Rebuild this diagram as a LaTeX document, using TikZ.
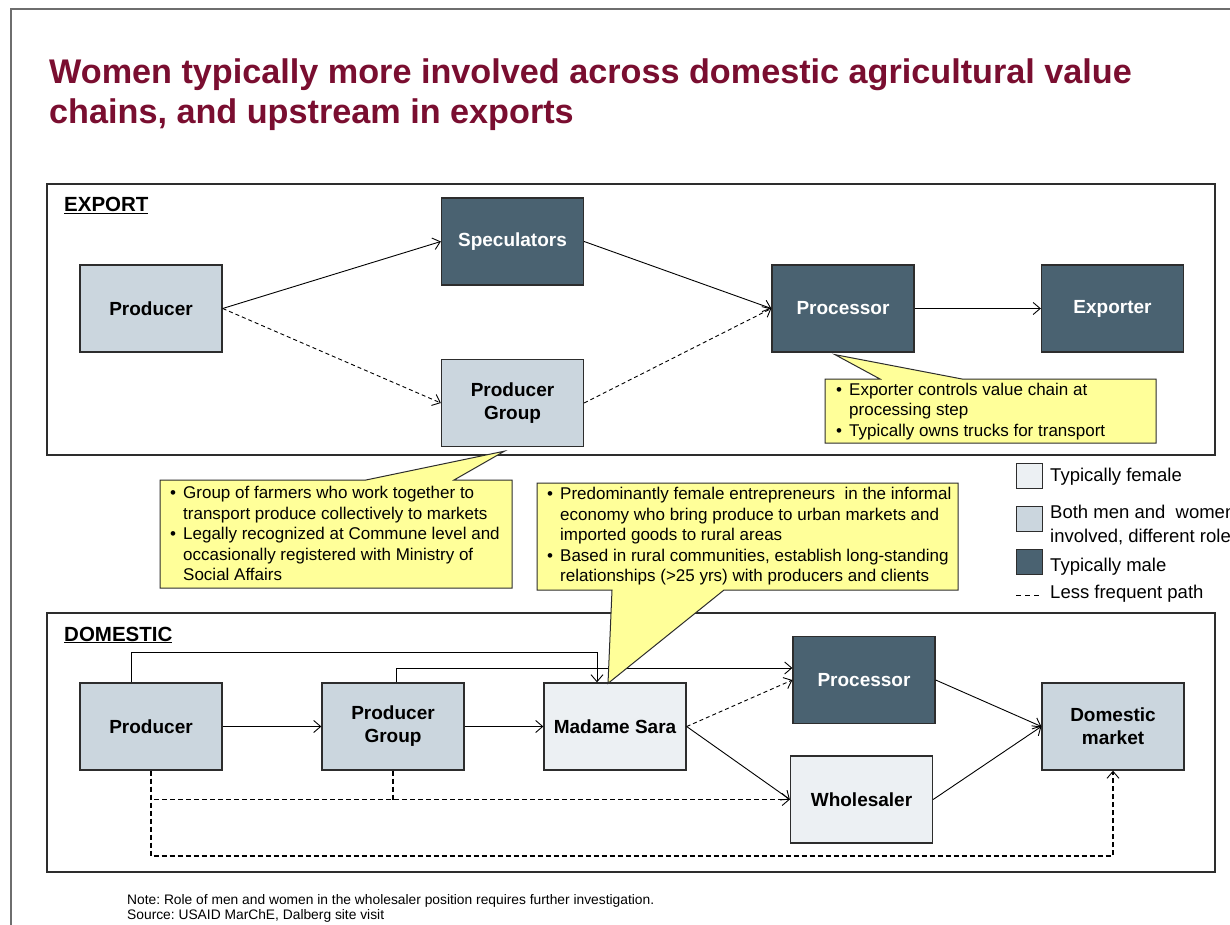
\documentclass[tikz,border=0pt]{standalone}
\usepackage{fontspec}
\setmainfont{Liberation Sans}
\usetikzlibrary{arrows.meta}
\frenchspacing

\definecolor{titlered}{RGB}{122,14,48}
\definecolor{malefill}{RGB}{74,98,113}
\definecolor{bothfill}{RGB}{203,214,222}
\definecolor{femfill}{RGB}{236,240,243}
\definecolor{notefill}{RGB}{255,255,153}
\definecolor{edgecol}{RGB}{45,45,45}
\definecolor{framecol}{RGB}{110,110,110}

\newcommand{\bul}{\makebox[13pt][l]{\textbullet}}
\newcommand{\hang}{\hspace*{13pt}}

\tikzset{
  actor/.style={draw=edgecol, line width=1.3pt, minimum width=142pt, minimum height=87pt,
    inner sep=2pt, align=center, font=\fontsize{19}{23}\selectfont\bfseries},
  maleact/.style={actor, fill=malefill, text=white},
  bothact/.style={actor, fill=bothfill},
  femact/.style={actor, fill=femfill},
  flow/.style={line width=0.9pt, -{Straight Barb[length=7pt,width=12pt,line width=0.9pt]}},
  rare/.style={flow, dash pattern=on 4pt off 3pt},
  rarebold/.style={flow, line width=1.1pt, dash pattern=on 5pt off 3pt},
  panel/.style={draw=edgecol, line width=1.2pt},
  bubble/.style={fill=notefill, draw=edgecol, line width=1pt, line join=miter},
  bubbletext/.style={anchor=west, inner sep=0pt, align=left, font=\fontsize{17}{20.5}\selectfont},
  panellabel/.style={anchor=base west, inner sep=0pt, font=\fontsize{20.5}{24}\selectfont\bfseries},
  legendtext/.style={anchor=west, inner sep=0pt, align=left, font=\fontsize{18.5}{23.5}\selectfont},
  swatch/.style={draw=edgecol, line width=1pt, minimum width=26pt, minimum height=25pt, inner sep=0pt},
  titletext/.style={anchor=base west, inner sep=0pt, text=titlered, font=\fontsize{34.2}{40}\selectfont\bfseries},
  notetext/.style={anchor=base west, inner sep=0pt, font=\fontsize{13.8}{15}\selectfont},
}

\begin{document}
\begin{tikzpicture}[x=1pt, y=-1pt]
\clip (0,0) rectangle (1230,925);
\fill[white] (0,0) rectangle (1230,925);

% slide frame
\draw[framecol, line width=1.5pt] (11,925) -- (11,9) -- (1235,9);

% title
\node[titletext] (title1) at (49,84) {Women typically more involved across domestic agricultural value};
\node[titletext] (title2) at (49,124) {chains, and upstream in exports};

% panels
\draw[panel] (47,184) rectangle (1215,455);
\draw[panel] (47,613) rectangle (1215,872);
\node[panellabel] (lblexp) at (64,212) {\underline{EXPORT}};
\node[panellabel] (lbldom) at (64,641) {\underline{DOMESTIC}};

% export chain
\node[bothact] (prodE) at (151,308.5) {Producer};
\node[maleact] (spec)  at (512.5,241.5) {Speculators};
\node[bothact] (pgE)   at (512.5,403) {Producer\\Group};
\node[maleact] (procE) at (843,308.5) {Processor};
\node[maleact] (expo)  at (1112.5,308.5) {Exporter};

\draw[flow] (prodE.east) -- (spec.west);
\draw[rare] (prodE.east) -- (pgE.west);
\draw[flow] (spec.east) -- (procE.west);
\draw[rare] (pgE.east) -- (procE.west);
\draw[flow] (procE.east) -- (expo.west);

% domestic chain
\node[bothact] (prodD) at (151,726.5) {Producer};
\node[bothact] (pgD)   at (393,726.5) {Producer\\Group};
\node[femact]  (sara)  at (615,726.5) {Madame Sara};
\node[maleact] (procD) at (864,680) {Processor};
\node[femact]  (whole) at (861.5,799.5) {Wholesaler};
\node[bothact] (dmkt)  at (1113,726.5) {Domestic\\market};

\coordinate (overS) at (597,652);
\coordinate (lowrun) at (151,856);

\draw[flow] (prodD.east) -- (pgD.west);
\draw[flow] (pgD.east) -- (sara.west);
\draw[flow] ([xshift=-20pt]prodD.north) |- (overS) -- (overS |- sara.north);
\draw[flow] ([xshift=3pt]pgD.north) |- ([yshift=12pt]procD.west);
\draw[rare] (sara.east) -- (procD.west);
\draw[flow] (sara.east) -- (whole.west);
\draw[flow] (procD.east) -- (dmkt.west);
\draw[flow] (whole.east) -- (dmkt.west);
\draw[rarebold] (prodD.south) |- (whole.west);
\draw[rarebold, -] (pgD.south) -- (pgD.south |- whole.west);
\draw[rarebold] (prodD.south) -- (lowrun) -| (dmkt.south);

% callouts
\draw[bubble] (825,379) -- (880,379) -- ([xshift=-8pt,yshift=-2pt]procE.south) -- (962,379)
  -- (1156,379) -- (1156,443) -- (825,443) -- cycle;
\node[bubbletext] (noteproc) at (836,411.5) {\bul Exporter controls value chain at\\
  \hang processing step\\ \bul Typically owns trucks for transport};

\draw[bubble] (160,480) -- (366,480) -- ([xshift=-8pt,yshift=-4pt]pgE.south) -- (454,480)
  -- (512,480) -- (512,588) -- (160,588) -- cycle;
\node[bubbletext] (notepg) at (170,533.5) {\bul Group of farmers who work together to\\
  \hang transport produce collectively to markets\\
  \bul Legally recognized at Commune level and\\
  \hang occasionally registered with Ministry of\\
  \hang Social Affairs};

\draw[bubble] (537,483) -- (958,483) -- (958,590) -- (724,590) -- ([xshift=-7pt,yshift=-1pt]sara.north)
  -- (612,590) -- (537,590) -- cycle;
\node[bubbletext] (notesara) at (547,536.5) {\bul Predominantly female entrepreneurs\ \ in the informal\\
  \hang economy who bring produce to urban markets and\\
  \hang imported goods to rural areas\\
  \bul Based in rural communities, establish long-standing\\
  \hang relationships (>25 yrs) with producers and clients};

% legend
\node[swatch, fill=femfill]  (swF) at (1029,476) {};
\node[legendtext] (txF) at (1050,477) {Typically female};
\node[swatch, fill=bothfill] (swB) at (1029,518.5) {};
\node[legendtext] (txB) at (1050,525) {Both men and\ \ women\\involved, different roles};
\node[swatch, fill=malefill] (swM) at (1029,562) {};
\node[legendtext] (txM) at (1050,567) {Typically male};
\coordinate (dashL) at (1016,595);
\coordinate (dashR) at (1042,595);
\draw[line width=0.9pt, dash pattern=on 5pt off 4pt] (dashL) -- (dashR);
\node[legendtext] (txD) at (1050,594) {Less frequent path};

% footnote
\node[notetext] (fn1) at (127,904) {Note: Role of men and women in the wholesaler position requires further investigation.};
\node[notetext] (fn2) at (127,919) {Source: USAID MarChE, Dalberg site visit};
\end{tikzpicture}
\end{document}
